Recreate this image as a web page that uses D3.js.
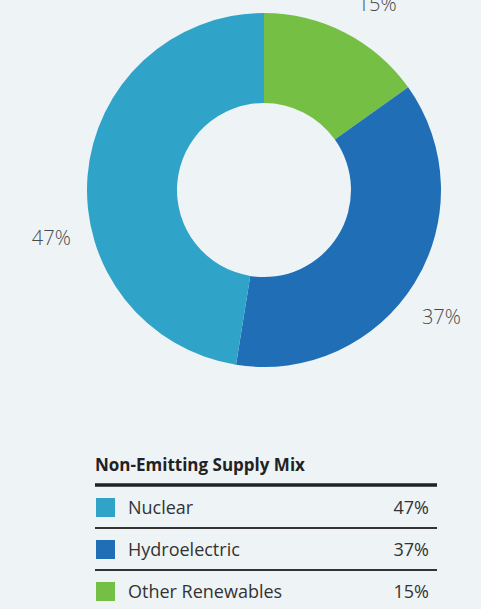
<!DOCTYPE html>
<html>
<head>
<meta charset="utf-8">
<script src="https://cdn.jsdelivr.net/npm/d3@7"></script>
<style>
  html, body { margin: 0; padding: 0; background: #eef3f6; }
  svg { display: block; font-family: "Open Sans", Lato, sans-serif; }
</style>
</head>
<body>
<svg id="chart" width="481" height="609"></svg>
<script>
// data
var categories = ["Other Renewables", "Hydroelectric", "Nuclear"];
var shares = [15, 37, 47];
var colors = ["#74bf44", "#1f6eb6", "#2fa4c8"];
var legendOrder = ["Nuclear", "Hydroelectric", "Other Renewables"];
var title = "Non-Emitting Supply Mix";

var svg = d3.select("#chart"),
    cx = 264, cy = 190,
    outerR = 177, innerR = 87;

var data = categories.map(function(c, i) { return {name: c, value: shares[i], color: colors[i]}; });

var pie = d3.pie()
    .sort(null)
    .value(function(d) { return d.value; });

var arc = d3.arc()
    .innerRadius(innerR)
    .outerRadius(outerR);

var donut = svg.append("g")
    .attr("transform", "translate(" + cx + "," + cy + ")");

var arcs = pie(data);

donut.selectAll("path")
    .data(arcs)
    .enter()
    .append("path")
    .attr("d", arc)
    .attr("fill", function(d) { return d.data.color; });

// outside labels, nudged a bit so they sit where the original put them
var labelR = 218;
var nudge = [0.07, 0.065, -0.3];
donut.selectAll(".pct")
    .data(arcs)
    .enter()
    .append("text")
    .attr("class", "pct")
    .attr("x", function(d, i) { var a = (d.startAngle + d.endAngle) / 2 + nudge[i]; return Math.sin(a) * labelR; })
    .attr("y", function(d, i) { var a = (d.startAngle + d.endAngle) / 2 + nudge[i]; return -Math.cos(a) * labelR; })
    .attr("dy", "0.35em")
    .attr("text-anchor", "middle")
    .attr("font-size", 20)
    .attr("font-weight", 300)
    .attr("fill", "#4a4a4a")
    .text(function(d) { return d.data.value + "%"; });

// legend table
var lx = 95, lw = 342, rowH = 42;
var legend = svg.append("g").attr("transform", "translate(" + lx + ",0)");

legend.append("text")
    .attr("x", 0)
    .attr("y", 471)
    .attr("font-size", 17)
    .attr("font-weight", "bold")
    .attr("fill", "#222")
    .text(title);

legend.append("line")
    .attr("x1", 0).attr("x2", lw)
    .attr("y1", 485).attr("y2", 485)
    .attr("stroke", "#222")
    .attr("stroke-width", 3.5);

var y = d3.scaleBand()
    .domain(legendOrder)
    .range([487, 487 + rowH * legendOrder.length]);

var byName = {};
data.forEach(function(d) { byName[d.name] = d; });

var rows = legend.selectAll(".row")
    .data(legendOrder)
    .enter()
    .append("g")
    .attr("class", "row")
    .attr("transform", function(d) { return "translate(0," + y(d) + ")"; });

rows.append("rect")
    .attr("x", 1)
    .attr("y", 11)
    .attr("width", 19)
    .attr("height", 19)
    .attr("fill", function(d) { return byName[d].color; });

rows.append("text")
    .attr("x", 33)
    .attr("y", 27)
    .attr("font-size", 18)
    .attr("fill", "#333")
    .text(function(d) { return d; });

rows.append("text")
    .attr("x", 334)
    .attr("y", 27)
    .attr("text-anchor", "end")
    .attr("font-size", 18)
    .attr("fill", "#333")
    .text(function(d) { return byName[d].value + "%"; });

rows.filter(function(d, i) { return i < legendOrder.length - 1; })
    .append("line")
    .attr("x1", 0).attr("x2", lw)
    .attr("y1", rowH - 1).attr("y2", rowH - 1)
    .attr("stroke", "#333")
    .attr("stroke-width", 2);
</script>
</body>
</html>
